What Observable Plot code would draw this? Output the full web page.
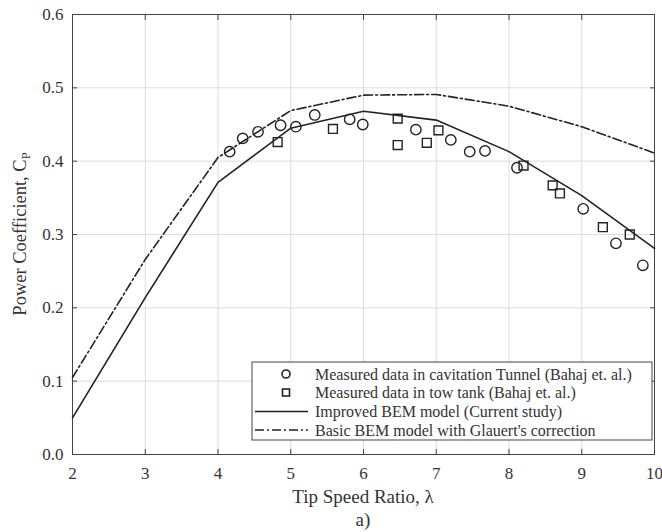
<!DOCTYPE html>
<html><head><meta charset="utf-8">
<script src="https://cdn.jsdelivr.net/npm/d3@7"></script>
<script src="https://cdn.jsdelivr.net/npm/@observablehq/plot@0.6"></script>
<style>body{margin:0;background:#fff;} svg{display:block;}</style>
</head><body><div id="chart"></div>
<script>
const tsr = [2, 3, 4, 5, 6, 7, 8, 9, 10];
const improvedBEM = [0.050, 0.214, 0.371, 0.445, 0.468, 0.456, 0.413, 0.353, 0.281];
const basicBEM = [0.105, 0.266, 0.405, 0.469, 0.490, 0.491, 0.475, 0.447, 0.411];
const tunnelTSR = [4.16, 4.34, 4.55, 4.86, 5.07, 5.33, 5.81, 5.99, 6.72, 7.20, 7.46, 7.67, 8.11, 9.02, 9.47, 9.84];
const tunnelCp = [0.413, 0.431, 0.440, 0.449, 0.447, 0.463, 0.457, 0.450, 0.443, 0.429, 0.413, 0.414, 0.391, 0.335, 0.288, 0.258];
const tankTSR = [4.82, 5.58, 6.47, 6.47, 6.87, 7.03, 8.20, 8.60, 8.70, 9.29, 9.66];
const tankCp = [0.426, 0.444, 0.458, 0.422, 0.425, 0.442, 0.394, 0.367, 0.356, 0.310, 0.300];
const xTicks = [2, 3, 4, 5, 6, 7, 8, 9, 10];
const yTicks = [0, 0.1, 0.2, 0.3, 0.4, 0.5, 0.6];
const legendLabels = [
  "Measured data in cavitation Tunnel (Bahaj et. al.)",
  "Measured data in tow tank (Bahaj et. al.)",
  "Improved BEM model (Current study)",
  "Basic BEM model with Glauert's correction"
];
const xLabel = "Tip Speed Ratio, \u03BB";
const yLabel = "Power Coefficient, C";
const ySub = "P";
const caption = "a)";

const improved = tsr.map((x, i) => ({x, y: improvedBEM[i]}));
const basic = tsr.map((x, i) => ({x, y: basicBEM[i]}));
const tunnel = tunnelTSR.map((x, i) => ({x, y: tunnelCp[i]}));
const tank = tankTSR.map((x, i) => ({x, y: tankCp[i]}));

const FONT = "'Liberation Serif', 'Times New Roman', serif";
const INK = "#222";

const plot = Plot.plot({
  width: 662, height: 532,
  marginLeft: 72, marginRight: 8, marginTop: 14, marginBottom: 78,
  style: {fontFamily: FONT, fontSize: "17px", background: "#fff", color: INK},
  x: {domain: [2, 10]},
  y: {domain: [0, 0.6]},
  marks: [
    Plot.gridX(xTicks, {stroke: "#dcdcdc", strokeOpacity: 1}),
    Plot.gridY(yTicks, {stroke: "#dcdcdc", strokeOpacity: 1}),
    Plot.axisX(xTicks, {anchor: "bottom", tickSize: -5, tickPadding: 17, label: null, tickFormat: d => String(d), stroke: "#444", fill: "#333"}),
    Plot.axisX(xTicks, {anchor: "top", tickSize: -5, tickFormat: () => "", label: null, stroke: "#444"}),
    Plot.axisY(yTicks, {anchor: "left", tickSize: -5, tickPadding: 14, tickFormat: d => d.toFixed(1), label: null, stroke: "#444", fill: "#333"}),
    Plot.axisY(yTicks, {anchor: "right", tickSize: -5, tickFormat: () => "", label: null, stroke: "#444"}),
    Plot.frame({stroke: "#444"}),
    Plot.line(basic, {x: "x", y: "y", stroke: INK, strokeWidth: 1.6, strokeDasharray: "9,3,2,3"}),
    Plot.line(improved, {x: "x", y: "y", stroke: INK, strokeWidth: 1.6}),
    Plot.dot(tunnel, {x: "x", y: "y", r: 5.2, stroke: INK, strokeWidth: 1.4, fill: "none"}),
    Plot.dot(tank, {x: "x", y: "y", symbol: "square", r: 5, stroke: INK, strokeWidth: 1.4, fill: "none"})
  ]
});

const svg = d3.select(plot);
const xs = plot.scale("x"), ys = plot.scale("y");
const plotLeft = xs.range[0], plotRight = xs.range[1];
const plotBottom = ys.range[0], plotTop = ys.range[1];
const cx = (plotLeft + plotRight) / 2;

svg.append("text").attr("x", cx).attr("y", plotBottom + 49).attr("text-anchor", "middle")
  .attr("font-family", FONT).attr("font-size", 19).attr("fill", "#333").text(xLabel);
svg.append("text").attr("x", cx).attr("y", plotBottom + 72).attr("text-anchor", "middle")
  .attr("font-family", FONT).attr("font-size", 19).attr("fill", "#333").text(caption);

const yl = svg.append("text").attr("transform", `translate(26,${(plotTop + plotBottom) / 2}) rotate(-90)`)
  .attr("text-anchor", "middle").attr("font-family", FONT).attr("font-size", 18.5).attr("fill", "#333");
yl.append("tspan").text(yLabel);
yl.append("tspan").attr("font-size", 12.5).attr("dy", 4).text(ySub);

// legend
const lg = svg.append("g").attr("font-family", FONT).attr("font-size", 16).attr("fill", "#333").attr("text-anchor", "start");
const bx = 252, by = 362, bw = 400, bh = 78;
lg.append("rect").attr("x", bx).attr("y", by).attr("width", bw).attr("height", bh)
  .attr("fill", "#fff").attr("stroke", "#444").attr("stroke-width", 1);
const rowY = [374, 392.5, 411.5, 430];
const symX = 286;
legendLabels.forEach((t, i) => {
  lg.append("text").attr("x", 315).attr("y", rowY[i]).attr("dy", "0.35em").attr("text-anchor", "start").text(t);
});
lg.append("circle").attr("cx", symX).attr("cy", rowY[0]).attr("r", 4).attr("fill", "none").attr("stroke", INK).attr("stroke-width", 1.6);
lg.append("rect").attr("x", symX - 3.5).attr("y", rowY[1] - 3.5).attr("width", 7).attr("height", 7).attr("fill", "none").attr("stroke", INK).attr("stroke-width", 1.6);
lg.append("line").attr("x1", 255).attr("x2", 308).attr("y1", rowY[2]).attr("y2", rowY[2]).attr("stroke", INK).attr("stroke-width", 1.6);
lg.append("line").attr("x1", 255).attr("x2", 308).attr("y1", rowY[3]).attr("y2", rowY[3]).attr("stroke", INK).attr("stroke-width", 1.6).attr("stroke-dasharray", "9,3,2,3");

document.getElementById("chart").appendChild(plot);
</script>
</body></html>
